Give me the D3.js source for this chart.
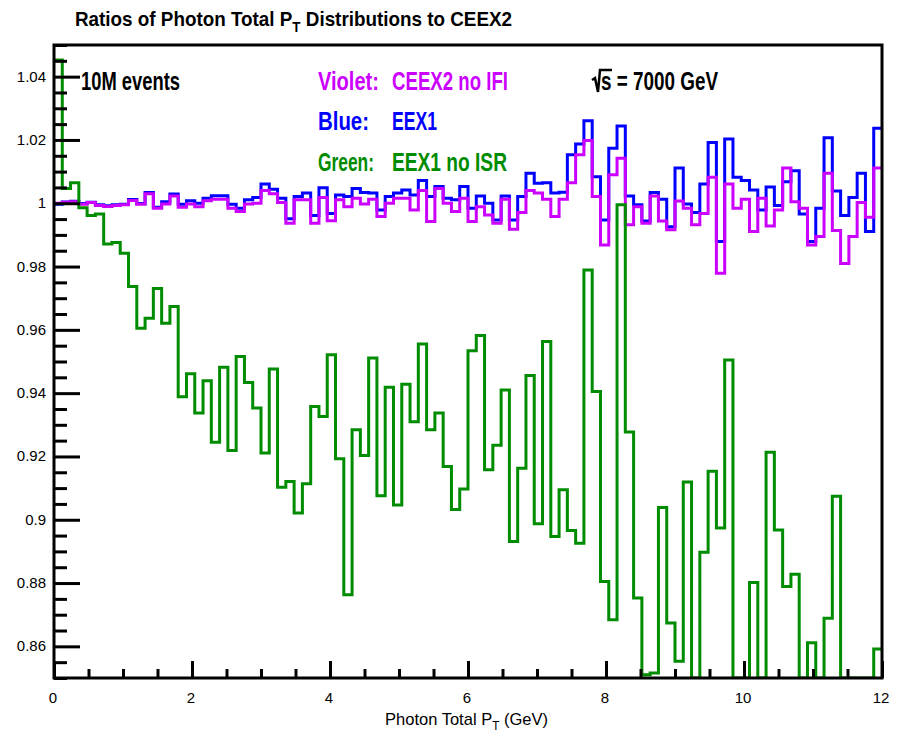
<!DOCTYPE html>
<html>
<head>
<meta charset="utf-8">
<script src="https://cdn.jsdelivr.net/npm/d3@7"></script>
<style>
  body { margin: 0; background: #fff; }
  svg { display: block; font-family: "Liberation Sans", Arial, Helvetica, sans-serif; }
</style>
</head>
<body>
<div id="draw"></div>
<script>
// ratio histograms, 100 bins of 0.12 GeV from 0 to 12 GeV
var xRange = [0, 12];
var yRange = [0.85, 1.05];
var yTickLabels = ['0.86', '0.88', '0.9', '0.92', '0.94', '0.96', '0.98', '1', '1.02', '1.04'];
var xTickLabels = ['0', '2', '4', '6', '8', '10', '12'];

// Green: EEX1 no ISR   (values under 0.85 sit on the bottom of the frame)
var green = [
  1.0453, 1.0047, 1.0065, 0.9986, 0.9961, 0.9966, 0.9871, 0.9876, 0.9842, 0.9737,
  0.9605, 0.9637, 0.9731, 0.9621, 0.9674, 0.9389, 0.9461, 0.9337, 0.9439, 0.9245,
  0.9482, 0.9219, 0.9516, 0.9434, 0.9353, 0.9211, 0.9476, 0.9103, 0.9121, 0.9021,
  0.9114, 0.9358, 0.9326, 0.9521, 0.9193, 0.8763, 0.9284, 0.9203, 0.9511, 0.9076,
  0.9419, 0.9047, 0.9428, 0.9310, 0.9555, 0.9284, 0.9337, 0.9168, 0.9032, 0.9097,
  0.9534, 0.9582, 0.9158, 0.9235, 0.9410, 0.8931, 0.9163, 0.9456, 0.8987, 0.9563,
  0.8947, 0.9095, 0.8966, 0.8926, 0.9789, 0.9405, 0.8805, 0.8684, 0.9995, 0.9277,
  0.8753, 0.8510, 0.8516, 0.9039, 0.8674, 0.8553, 0.9119, 0.8450, 0.8897, 0.9153,
  0.8974, 0.9505, 0.8400, 0.8400, 0.8802, 0.8400, 0.9213, 0.8968, 0.8789, 0.8828,
  0.8400, 0.8611, 0.8400, 0.8689, 0.9074, 0.8400, 0.8400, 0.8400, 0.8400, 0.8592
];
// Blue: EEX1
var blue = [
  0.9997, 1.0004, 1.0006, 0.9999, 1.0003, 0.9995, 0.9992, 0.9995, 0.9997, 1.0012,
  0.9999, 1.0034, 0.9987, 1.0005, 1.0029, 0.9997, 1.0008, 1.0000, 1.0016, 1.0024,
  1.0024, 0.9997, 0.9984, 1.0011, 1.0018, 1.0061, 1.0044, 1.0016, 0.9951, 1.0021,
  1.0032, 0.9961, 1.0049, 0.9968, 1.0026, 1.0021, 1.0047, 1.0034, 1.0032, 0.9979,
  1.0021, 1.0032, 1.0042, 1.0026, 1.0072, 1.0021, 1.0053, 1.0016, 1.0011, 1.0053,
  0.9984, 1.0023, 1.0000, 0.9947, 1.0023, 0.9947, 1.0021, 1.0095, 1.0063, 1.0065,
  1.0032, 1.0035, 1.0153, 1.0187, 1.0261, 1.0084, 0.9947, 1.0174, 1.0244, 1.0023,
  0.9995, 0.9944, 1.0034, 1.0013, 0.9926, 1.0111, 0.9998, 0.9971, 1.0061, 1.0192,
  0.9879, 1.0203, 1.0082, 1.0072, 1.0042, 0.9979, 1.0051, 0.9993, 1.0068, 1.0103,
  0.9966, 0.9879, 0.9984, 1.0207, 1.0039, 0.9961, 1.0018, 1.0095, 0.9911, 1.0237
];
// Violet: CEEX2 no IFI
var violet = [
  1.0000, 1.0003, 1.0005, 0.9997, 1.0002, 0.9993, 0.9990, 0.9993, 0.9995, 1.0009,
  0.9997, 1.0030, 0.9984, 0.9998, 1.0023, 0.9987, 0.9998, 0.9989, 1.0008, 1.0013,
  1.0013, 0.9984, 0.9974, 0.9998, 1.0000, 1.0040, 1.0030, 1.0002, 0.9937, 1.0011,
  1.0011, 0.9937, 1.0018, 0.9945, 1.0011, 0.9989, 1.0016, 0.9998, 1.0013, 0.9958,
  1.0000, 1.0016, 1.0016, 0.9979, 1.0040, 0.9942, 1.0047, 1.0000, 0.9974, 1.0016,
  0.9942, 0.9989, 0.9963, 0.9937, 1.0013, 0.9918, 0.9971, 1.0040, 1.0032, 1.0013,
  0.9958, 1.0013, 1.0065, 1.0153, 1.0198, 1.0021, 0.9868, 1.0090, 1.0142, 0.9932,
  0.9989, 0.9937, 1.0023, 0.9944, 0.9916, 1.0007, 0.9984, 0.9932, 0.9968, 1.0082,
  0.9779, 1.0061, 0.9984, 1.0013, 0.9911, 1.0016, 0.9928, 0.9979, 1.0111, 1.0005,
  0.9984, 0.9868, 0.9895, 1.0095, 0.9914, 0.9810, 0.9895, 1.0002, 0.9956, 1.0111
];

window.onload = function(){
    var W = 906, H = 740;
    var left = 54, right = 882, top = 45, bottom = 678;
    var svg = d3.select('#draw').append('svg').attr('width', W).attr('height', H);

    var x = d3.scaleLinear().domain(xRange).range([left, right]);
    var y = d3.scaleLinear().domain(yRange).range([bottom, top]).clamp(true);

    // clip for the histograms
    svg.append('clipPath').attr('id', 'frame')
      .append('rect').attr('x', left).attr('y', top).attr('width', right - left).attr('height', bottom - top);

    // step line through the bins
    function histPath(vals){
        var bw = (xRange[1] - xRange[0]) / vals.length;
        var pts = vals.map(function(v, i){ return [xRange[0] + i * bw, v]; });
        pts.push([xRange[1], vals[vals.length - 1]]);
        return d3.line().x(function(d){ return x(d[0]); }).y(function(d){ return y(d[1]); })
            .curve(d3.curveStepAfter)(pts);
    }

    var g = svg.append('g').attr('clip-path', 'url(#frame)');
    var series = [
        {vals: blue, color: '#0000ff'},
        {vals: violet, color: '#cc00ff'},
        {vals: green, color: '#008c00'}
    ];
    series.forEach(function(s){
        g.append('path').attr('d', histPath(s.vals))
          .attr('fill', 'none').attr('stroke', s.color).attr('stroke-width', 3);
    });

    // axes, ROOT style ticks pointing inside
    var yAxis = d3.axisRight(y).tickValues(d3.range(0.85, 1.0501, 0.005))
        .tickSize(13).tickFormat('');
    var ya = svg.append('g').attr('transform', 'translate(' + left + ',0)').call(yAxis);
    ya.selectAll('.tick line').attr('stroke', '#000').attr('stroke-width', 3)
      .attr('x2', function(d){ return Math.abs(Math.round(d * 50) - d * 50) < 1e-6 ? 26 : 13; });
    ya.select('.domain').remove();

    var xAxis = d3.axisTop(x).tickValues(d3.range(0, 12.01, 0.5)).tickSize(9).tickFormat('');
    var xa = svg.append('g').attr('transform', 'translate(0,' + bottom + ')').call(xAxis);
    xa.selectAll('.tick line').attr('stroke', '#000').attr('stroke-width', 3)
      .attr('y2', function(d){ return Math.abs(d / 2 - Math.round(d / 2)) < 1e-6 ? -17 : -9; });
    xa.select('.domain').remove();

    // tick labels
    svg.append('g').selectAll('text').data(yTickLabels).enter().append('text')
      .attr('x', 46).attr('y', function(d){ return y(+d) + 5; })
      .attr('text-anchor', 'end').attr('font-size', 15).text(function(d){ return d; });
    svg.append('g').selectAll('text').data(xTickLabels).enter().append('text')
      .attr('x', function(d){ return x(+d) - 1; }).attr('y', 703)
      .attr('text-anchor', 'middle').attr('font-size', 15).text(function(d){ return d; });

    // frame
    svg.append('rect').attr('x', left).attr('y', top).attr('width', right - left).attr('height', bottom - top)
      .attr('fill', 'none').attr('stroke', '#000').attr('stroke-width', 3);

    // title
    var t = svg.append('text').attr('x', 75).attr('y', 26).attr('font-size', 21).attr('font-weight', 'bold')
      .attr('textLength', 437).attr('lengthAdjust', 'spacingAndGlyphs');
    t.append('tspan').text('Ratios of Photon Total P');
    t.append('tspan').attr('font-size', 15).attr('dy', 6).text('T');
    t.append('tspan').attr('dy', -6).text(' Distributions to CEEX2');

    // x axis title
    var xt = svg.append('text').attr('x', 548).attr('y', 725).attr('text-anchor', 'end').attr('font-size', 17)
      .attr('textLength', 163).attr('lengthAdjust', 'spacingAndGlyphs');
    xt.append('tspan').text('Photon Total P');
    xt.append('tspan').attr('font-size', 12).attr('dy', 5).text('T');
    xt.append('tspan').attr('dy', -5).text(' (GeV)');

    // labels inside the frame
    function label(txt, x0, y0, len, color){
        svg.append('text').attr('x', x0).attr('y', y0).attr('font-size', 25).attr('font-weight', 'bold')
          .attr('fill', color).attr('textLength', len).attr('lengthAdjust', 'spacingAndGlyphs').text(txt);
    }
    label('10M events', 81, 90, 99, '#000');
    label('Violet:', 318, 90, 61, '#cc00ff');
    label('CEEX2 no IFI', 392, 90, 116, '#cc00ff');
    label('Blue:', 318, 130, 51, '#0000ff');
    label('EEX1', 392, 130, 45, '#0000ff');
    label('Green:', 318, 171, 56, '#008c00');
    label('EEX1 no ISR', 392, 171, 115, '#008c00');
    label('s = 7000 GeV', 601, 90, 117, '#000');
    // radical sign over s
    svg.append('path').attr('d', 'M592,80 L595,78 L598,92 L600,70 L612,70')
      .attr('fill', 'none').attr('stroke', '#000').attr('stroke-width', 2.5);
};
</script>
</body>
</html>
